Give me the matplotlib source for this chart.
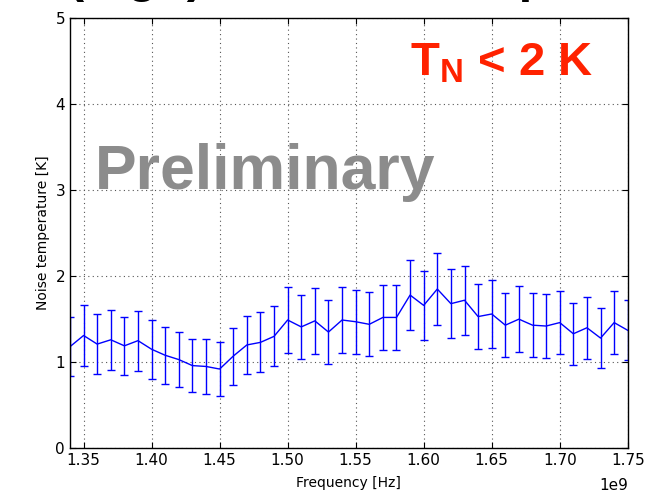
import matplotlib
matplotlib.use("Agg")
import matplotlib.pyplot as plt
import numpy as np

freq_ghz = [1.34, 1.35, 1.36, 1.37, 1.38, 1.39, 1.40, 1.41, 1.42, 1.43, 1.44,
            1.45, 1.46, 1.47, 1.48, 1.49, 1.50, 1.51, 1.52, 1.53, 1.54, 1.55,
            1.56, 1.57, 1.58, 1.59, 1.60, 1.61, 1.62, 1.63, 1.64, 1.65, 1.66,
            1.67, 1.68, 1.69, 1.70, 1.71, 1.72, 1.73, 1.74, 1.75]
noise_temp = [1.18, 1.31, 1.21, 1.26, 1.19, 1.25, 1.15, 1.08, 1.03, 0.96, 0.95,
              0.92, 1.07, 1.20, 1.23, 1.30, 1.49, 1.41, 1.48, 1.35, 1.49, 1.47,
              1.44, 1.52, 1.52, 1.78, 1.66, 1.85, 1.68, 1.72, 1.53, 1.56, 1.43,
              1.50, 1.43, 1.42, 1.46, 1.33, 1.40, 1.28, 1.46, 1.37]
noise_err = [0.34, 0.35, 0.35, 0.35, 0.34, 0.35, 0.34, 0.33, 0.32, 0.31, 0.32,
             0.31, 0.33, 0.34, 0.35, 0.35, 0.38, 0.37, 0.38, 0.37, 0.38, 0.37,
             0.37, 0.38, 0.38, 0.41, 0.40, 0.42, 0.40, 0.40, 0.38, 0.39, 0.37,
             0.38, 0.37, 0.37, 0.37, 0.36, 0.36, 0.35, 0.37, 0.35]

x_ticks = [1.35, 1.40, 1.45, 1.50, 1.55, 1.60, 1.65, 1.70, 1.75]
y_ticks = [0, 1, 2, 3, 4, 5]

freq = np.array(freq_ghz) * 1e9

fig = plt.figure(figsize=(6.57, 5.03), dpi=100)
ax = fig.add_axes([0.1065, 0.109, 0.849, 0.855])

ax.errorbar(freq, noise_temp, yerr=noise_err, color='#0000ff', lw=1.0,
            elinewidth=1.0, capsize=3, capthick=1.0)

ax.set_xlim(1.34e9, 1.75e9)
ax.set_ylim(0, 5)
ax.set_xticks(np.array(x_ticks) * 1e9)
ax.set_xticklabels(['%.2f' % v for v in x_ticks])
ax.set_yticks(y_ticks)
ax.grid(True, color='#555555', linestyle=(0, (1, 3)), linewidth=0.8)
ax.tick_params(direction='in', top=True, right=True, length=4, labelsize=11)
ax.set_xlabel('Frequency [Hz]', fontsize=10, labelpad=6)
ax.set_ylabel('Noise temperature [K]', fontsize=10)
ax.text(1.0, -0.07, '1e9', transform=ax.transAxes, ha='right', va='top', fontsize=11)
for s in ax.spines.values():
    s.set_linewidth(1.0)

ax.text(0.045, 0.64, 'Preliminary', transform=ax.transAxes, fontsize=45,
        fontweight='bold', color='#8c8c8c', family='Liberation Sans',
        ha='left', va='center')
ax.text(0.61, 0.895, r'T$_\mathregular{N}$ < 2 K', transform=ax.transAxes,
        fontsize=34, fontweight='bold', color='#ff2200', family='Liberation Sans',
        ha='left', va='center')

fig.text(68 / 657, 1.0155, '(high) receiver: temp', fontsize=35, fontweight='bold',
         family='Liberation Sans', ha='left', va='baseline', color='black')

fig.savefig('out.png', dpi=100)
